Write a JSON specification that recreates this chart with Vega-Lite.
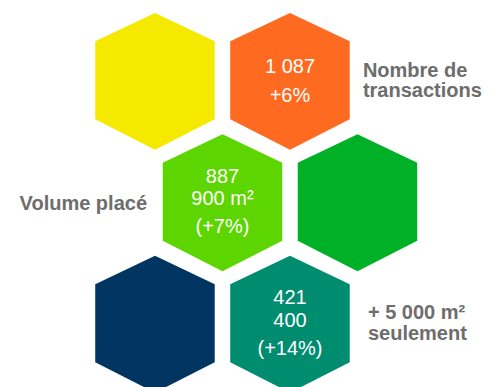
{
  "$schema": "https://vega.github.io/schema/vega-lite/v6.json",
  "width": 491,
  "height": 387,
  "autosize": {"type": "none"},
  "padding": 0,
  "background": "white",
  "config": {"view": {"stroke": null}, "text": {"font": "Liberation Sans", "baseline": "alphabetic"}},
  "datasets": {
    "hex": [
      {"id": "a", "col": 0, "row": 0, "v1": "", "v2": "", "vs": "", "p3": "", "p2": ""},
      {"id": "b", "col": 2, "row": 0, "v1": "", "v2": "", "vs": "1 087", "p3": "", "p2": "+6%"},
      {"id": "c", "col": 1, "row": 1, "v1": "887", "v2": "900 m²", "vs": "", "p3": "(+7%)", "p2": ""},
      {"id": "d", "col": 3, "row": 1, "v1": "", "v2": "", "vs": "", "p3": "", "p2": ""},
      {"id": "e", "col": 0, "row": 2, "v1": "", "v2": "", "vs": "", "p3": "", "p2": ""},
      {"id": "f", "col": 2, "row": 2, "v1": "421", "v2": "400", "vs": "", "p3": "(+14%)", "p2": ""}
    ],
    "labR": [
      {"col": 3.08, "row": 0, "l1": "Nombre de", "l2": "transactions"},
      {"col": 3.155, "row": 2, "l1": "+ 5 000 m²", "l2": "seulement"}
    ],
    "labL": [
      {"col": -0.118, "row": 1, "label": "Volume placé"}
    ]
  },
  "layer": [
    {
      "data": {"name": "hex"},
      "mark": {
        "type": "point",
        "filled": true,
        "opacity": 1,
        "strokeWidth": 0,
        "size": 14280,
        "shape": "M0,-1.14L1,-0.665L1,0.64L0,1.15L-1,0.64L-1,-0.665Z"
      },
      "encoding": {
        "x": {"field": "col", "type": "quantitative", "scale": {"domain": [-2.296, 4.978], "nice": false, "zero": false}, "axis": null},
        "y": {"field": "row", "type": "quantitative", "scale": {"domain": [-0.667, 2.519], "reverse": true, "nice": false, "zero": false}, "axis": null},
        "color": {
          "field": "id", "type": "nominal", "legend": null,
          "scale": {"domain": ["a", "b", "c", "d", "e", "f"], "range": ["#f6e900", "#fe6a1f", "#5cd500", "#00b027", "#003562", "#008c6f"]}
        }
      }
    },
    {
      "data": {"name": "hex"},
      "mark": {"type": "text", "color": "white", "fontSize": 20, "align": "center", "baseline": "alphabetic", "dy": -19.5},
      "encoding": {
        "x": {"field": "col", "type": "quantitative"},
        "y": {"field": "row", "type": "quantitative"},
        "text": {"field": "v1"}
      }
    },
    {
      "data": {"name": "hex"},
      "mark": {"type": "text", "color": "white", "fontSize": 20, "align": "center", "baseline": "alphabetic", "dy": 3},
      "encoding": {
        "x": {"field": "col", "type": "quantitative"},
        "y": {"field": "row", "type": "quantitative"},
        "text": {"field": "v2"}
      }
    },
    {
      "data": {"name": "hex"},
      "mark": {"type": "text", "color": "white", "fontSize": 20, "align": "center", "baseline": "alphabetic", "dy": -8.5},
      "encoding": {
        "x": {"field": "col", "type": "quantitative"},
        "y": {"field": "row", "type": "quantitative"},
        "text": {"field": "vs"}
      }
    },
    {
      "data": {"name": "hex"},
      "mark": {"type": "text", "color": "white", "fontSize": 20, "align": "center", "baseline": "alphabetic", "dy": 31},
      "encoding": {
        "x": {"field": "col", "type": "quantitative"},
        "y": {"field": "row", "type": "quantitative"},
        "text": {"field": "p3"}
      }
    },
    {
      "data": {"name": "hex"},
      "mark": {"type": "text", "color": "white", "fontSize": 20, "align": "center", "baseline": "alphabetic", "dy": 21},
      "encoding": {
        "x": {"field": "col", "type": "quantitative"},
        "y": {"field": "row", "type": "quantitative"},
        "text": {"field": "p2"}
      }
    },
    {
      "data": {"name": "labR"},
      "mark": {"type": "text", "color": "#6d6d6d", "fontWeight": "bold", "fontSize": 20, "baseline": "alphabetic", "align": "left", "dy": -4.5},
      "encoding": {
        "x": {"field": "col", "type": "quantitative"},
        "y": {"field": "row", "type": "quantitative"},
        "text": {"field": "l1"}
      }
    },
    {
      "data": {"name": "labR"},
      "mark": {"type": "text", "color": "#6d6d6d", "fontWeight": "bold", "fontSize": 20, "baseline": "alphabetic", "align": "left", "dy": 16},
      "encoding": {
        "x": {"field": "col", "type": "quantitative"},
        "y": {"field": "row", "type": "quantitative"},
        "text": {"field": "l2"}
      }
    },
    {
      "data": {"name": "labL"},
      "mark": {"type": "text", "color": "#6d6d6d", "fontWeight": "bold", "fontSize": 20, "baseline": "alphabetic", "align": "right", "dy": 8},
      "encoding": {
        "x": {"field": "col", "type": "quantitative"},
        "y": {"field": "row", "type": "quantitative"},
        "text": {"field": "label"}
      }
    }
  ]
}
